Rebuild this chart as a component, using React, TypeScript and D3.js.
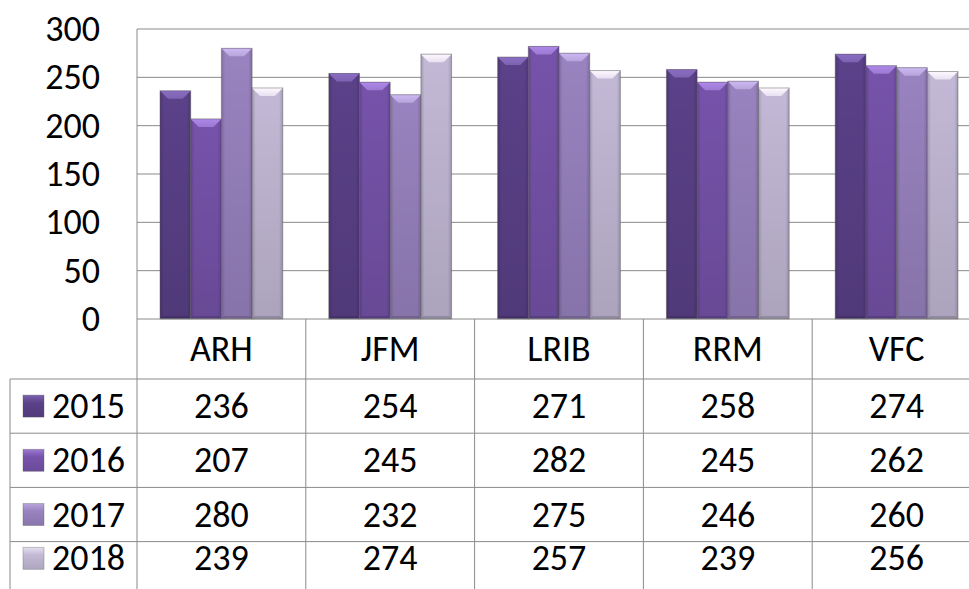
import React from "react";
import * as d3 from "d3";

const categories = ["ARH", "JFM", "LRIB", "RRM", "VFC"];
const seriesNames = ["2015", "2016", "2017", "2018"];
const values2015 = [236, 254, 271, 258, 274];
const values2016 = [207, 245, 282, 245, 262];
const values2017 = [280, 232, 275, 246, 260];
const values2018 = [239, 274, 257, 239, 256];
const seriesValues = [values2015, values2016, values2017, values2018];
const yTicks = [0, 50, 100, 150, 200, 250, 300];
const seriesColors = ["#5b4189", "#7653aa", "#9983c0", "#c3b9d6"];
const capColors = ["#7d62b0", "#9c7ad2", "#b8a5db", "#e6e0f1"];

const W = 969;
const H = 589;
const FONT = "Carlito, 'Open Sans', sans-serif";
const FS = 36;

export default function App() {
  const plotLeft = 137;
  const bandW = 168.8;
  const x = d3
    .scaleBand<string>()
    .domain(categories)
    .range([plotLeft, plotLeft + bandW * categories.length])
    .padding(0);
  const y = d3.scaleLinear().domain([0, 300]).range([319, 29]);
  const barW = x.bandwidth() / 5.5;
  const inner = d3
    .scaleBand<string>()
    .domain(seriesNames)
    .range([0.75 * barW, 4.75 * barW]);

  const headerTop = y(0);
  const headerBottom = 379;
  const rowH = 54.2;
  const tableBottom = 575;
  const tableLeft = 10;
  const bevel = 8;
  const gridColor = "#8a8a8a";

  return (
    <div style={{ position: "absolute", left: 0, top: 0 }}>
      <svg width={W} height={H} style={{ display: "block", background: "#fff" }}>
        <defs>
          {seriesColors.map((c, i) => {
            const dark = d3.color(c)!.darker(0.5).toString();
            return (
              <linearGradient key={i} id={`hg${i}`} x1="0" x2="1" y1="0" y2="0">
                <stop offset="0" stopColor={dark} />
                <stop offset="0.12" stopColor={c} />
                <stop offset="0.88" stopColor={c} />
                <stop offset="1" stopColor={dark} />
              </linearGradient>
            );
          })}
          {capColors.map((c, i) => (
            <linearGradient key={i} id={`cg${i}`} x1="0" x2="0" y1="0" y2="1">
              <stop offset="0" stopColor={d3.color(c)!.brighter(0.3).toString()} />
              <stop offset="1" stopColor={c} />
            </linearGradient>
          ))}
          <linearGradient id="shade" x1="0" x2="0" y1="0" y2="1">
            <stop offset="0" stopColor="#000" stopOpacity={0} />
            <stop offset="1" stopColor="#000" stopOpacity={0.12} />
          </linearGradient>
          {seriesColors.map((c, i) => (
            <linearGradient key={i} id={`kg${i}`} x1="0" x2="0" y1="0" y2="1">
              <stop offset="0" stopColor={capColors[i]} />
              <stop offset="0.35" stopColor={c} />
              <stop offset="1" stopColor={d3.color(c)!.darker(0.3).toString()} />
            </linearGradient>
          ))}
        </defs>

        {yTicks.filter((t) => t > 0).map((t) => (
          <line key={t} x1={plotLeft} x2={W} y1={y(t)} y2={y(t)} stroke={gridColor} strokeWidth={1} />
        ))}
        <line x1={plotLeft} x2={plotLeft} y1={y(300)} y2={H} stroke={gridColor} strokeWidth={1} />

        {yTicks.map((t) => (
          <text
            key={t}
            x={100}
            y={y(t)}
            textAnchor="end"
            dominantBaseline="central"
            fontFamily={FONT}
            fontSize={FS}
            fill="#000"
          >
            {t}
          </text>
        ))}

        {categories.map((cat, ci) =>
          seriesNames.map((s, si) => {
            const v = seriesValues[si][ci];
            const bx = x(cat)! + inner(s)!;
            const by = y(v);
            const bw = inner.bandwidth();
            const bh = y(0) - by;
            return (
              <g key={cat + s}>
                <rect x={bx} y={by} width={bw} height={bh} fill={`url(#hg${si})`} />
                <rect x={bx} y={by} width={bw} height={bh} fill="url(#shade)" />
                <polygon
                  points={`${bx},${by} ${bx + bw},${by} ${bx + bw - bevel},${by + bevel} ${bx + bevel},${by + bevel}`}
                  fill={`url(#cg${si})`}
                />
                <polygon
                  points={`${bx},${y(0)} ${bx + bw},${y(0)} ${bx + bw - 3},${y(0) - 3} ${bx + 3},${y(0) - 3}`}
                  fill="#000"
                  fillOpacity={0.15}
                />
                <rect
                  x={bx}
                  y={by}
                  width={bw}
                  height={bh}
                  fill="none"
                  stroke="#555"
                  strokeOpacity={0.45}
                  strokeWidth={1}
                />
              </g>
            );
          })
        )}

        <line x1={plotLeft} x2={W} y1={headerTop} y2={headerTop} stroke={gridColor} strokeWidth={1} />
        {seriesNames.map((s, i) => (
          <line
            key={s}
            x1={tableLeft}
            x2={W}
            y1={headerBottom + i * rowH}
            y2={headerBottom + i * rowH}
            stroke={gridColor}
            strokeWidth={1}
          />
        ))}
        <line x1={tableLeft} x2={tableLeft} y1={headerBottom} y2={H} stroke={gridColor} strokeWidth={1} />
        {categories.map((cat) => (
          <line
            key={cat}
            x1={x(cat)! + x.bandwidth()}
            x2={x(cat)! + x.bandwidth()}
            y1={headerTop}
            y2={H}
            stroke={gridColor}
            strokeWidth={1}
          />
        ))}

        {categories.map((cat) => (
          <text
            key={cat}
            x={x(cat)! + x.bandwidth() / 2}
            y={(headerTop + headerBottom) / 2}
            textAnchor="middle"
            dominantBaseline="central"
            fontFamily={FONT}
            fontSize={FS}
            fill="#000"
          >
            {cat}
          </text>
        ))}

        {seriesNames.map((s, si) => {
          const top = headerBottom + si * rowH;
          const bottom = Math.min(top + rowH, tableBottom);
          const cy = (top + bottom) / 2;
          return (
            <g key={s}>
              <rect
                x={23}
                y={cy - 11}
                width={21}
                height={22}
                fill={`url(#kg${si})`}
                stroke="#555"
                strokeOpacity={0.4}
                strokeWidth={0.8}
              />
              <text
                x={52}
                y={cy}
                dominantBaseline="central"
                fontFamily={FONT}
                fontSize={FS}
                fill="#000"
              >
                {s}
              </text>
              {categories.map((cat, ci) => (
                <text
                  key={cat}
                  x={x(cat)! + x.bandwidth() / 2}
                  y={cy}
                  textAnchor="middle"
                  dominantBaseline="central"
                  fontFamily={FONT}
                  fontSize={FS}
                  fill="#000"
                >
                  {seriesValues[si][ci]}
                </text>
              ))}
            </g>
          );
        })}
      </svg>
    </div>
  );
}
